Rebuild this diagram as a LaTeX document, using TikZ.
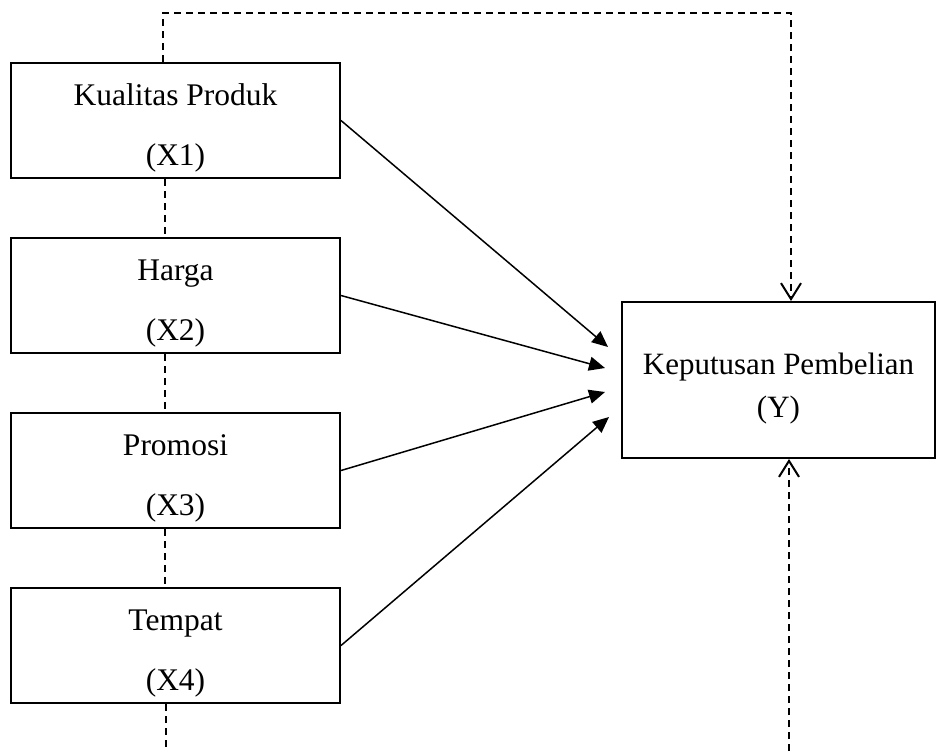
\documentclass[tikz,border=0pt]{standalone}
\usepackage{fontspec}
\setmainfont{Liberation Serif}
\usetikzlibrary{positioning, arrows.meta}
\newcommand{\lifttext}[1]{\rule{0pt}{#1}}

\begin{document}
\begin{tikzpicture}[x=0.5pt, y=-0.5pt, node distance=29pt,
    var/.style={draw, line width=1pt, minimum width=164.5pt, minimum height=57.5pt, inner ysep=1pt, align=center, font=\fontsize{15.75}{30}\selectfont},
    dep/.style={draw, line width=1pt, minimum width=156.5pt, minimum height=78pt, inner ysep=1pt, align=center, font=\fontsize{15.5}{21.5}\selectfont},
    effect/.style={-{Triangle[length=8pt,width=7pt]}, line width=0.75pt},
    link/.style={dash pattern=on 3.5pt off 2.5pt, line width=1pt},
    linkend/.style={link, -{Straight Barb[length=8pt,width=10pt]}}]
    \useasboundingbox (0,0) rectangle (941,751);
    \node[var] (x1) at (175.5,120.5) {\lifttext{18pt}Kualitas Produk\\(X1)};
    \node[var, below=of x1] (x2) {\lifttext{18pt}Harga\\(X2)};
    \node[var, below=of x2] (x3) {\lifttext{18pt}Promosi\\(X3)};
    \node[var, below=of x3] (x4) {\lifttext{18pt}Tempat\\(X4)};
    \node[dep] (y) at (778.5,380) {\lifttext{19pt}Keputusan Pembelian\\(Y)};
    \coordinate (tl) at (163,13);
    \coordinate (tr) at (791,13);
    \coordinate (mid) at (165,0);
    \coordinate (bl) at (166,751);
    \coordinate (br) at (789,751);
    \coordinate (t1) at (608,347);
    \coordinate (t2) at (605,368);
    \coordinate (t3) at (605,392);
    \coordinate (t4) at (609,417);
    \draw[effect] (x1.east) -- (t1);
    \draw[effect] (x2.east) -- (t2);
    \draw[effect] (x3.east) -- (t3);
    \draw[effect] (x4.east) -- (t4);
    \draw[linkend] (x1.north -| tl) -- (tl) -- (tr) -- (y.north -| tr);
    \draw[link] (x1.south -| mid) -- (x2.north -| mid);
    \draw[link] (x2.south -| mid) -- (x3.north -| mid);
    \draw[link] (x3.south -| mid) -- (x4.north -| mid);
    \draw[link] (x4.south -| bl) -- (bl);
    \draw[linkend] (br) -- (y.south -| br);
  \end{tikzpicture}
\end{document}
